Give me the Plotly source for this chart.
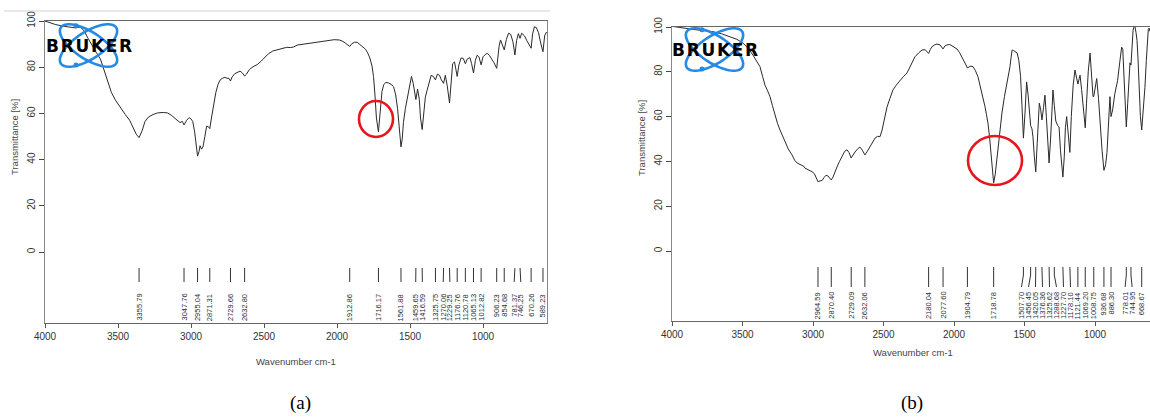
import math
import plotly.graph_objects as go

# ---------------- data: spectrum (a) ----------------
wn_a = [4000, 3970, 3930, 3880, 3830, 3790, 3760, 3735, 3705, 3680, 3650, 3620, 3595, 3570, 3545, 3515,
        3480, 3450, 3420, 3395, 3375, 3355.79, 3335, 3315, 3290, 3260, 3230, 3190, 3160, 3135, 3110, 3090,
        3075, 3060, 3047.76, 3030, 3012, 3000, 2988, 2975, 2962, 2955.04, 2945, 2938, 2928, 2918, 2905,
        2893, 2880, 2871.31, 2860, 2845, 2830, 2815, 2800, 2785, 2768, 2753, 2740, 2729.66, 2718, 2700,
        2680, 2664, 2648, 2632.80, 2620, 2600, 2575, 2545, 2520, 2495, 2470, 2440, 2410, 2380, 2345, 2320,
        2300, 2270, 2230, 2190, 2150, 2100, 2060, 2020, 1985, 1960, 1940, 1925, 1912.86, 1898, 1880, 1862,
        1845, 1825, 1805, 1790, 1775, 1760, 1750, 1740, 1730, 1716.17, 1708, 1700, 1692, 1680, 1665, 1648,
        1630, 1612, 1598, 1585, 1572, 1561.88, 1553, 1545, 1532, 1520, 1505, 1490, 1478, 1459.65, 1448,
        1436, 1428, 1416.59, 1405, 1395, 1383, 1370, 1355, 1340, 1325.75, 1312, 1298, 1285, 1270.06, 1258,
        1245, 1229.25, 1218, 1208, 1195, 1185, 1176.76, 1165, 1150, 1135, 1120.78, 1108, 1090, 1078,
        1065.13, 1052, 1040, 1028, 1012.82, 1000, 985, 970, 955, 940, 925, 906.23, 890, 880, 868, 854.68,
        840, 825, 810, 795, 781.37, 770, 758, 746.25, 735, 715, 700, 685, 670.26, 660, 648, 635, 620, 605,
        589.23, 578, 568, 562]
t_a = [100, 99.3, 98.5, 97.8, 97.2, 97.0, 97.4, 96.0, 92.5, 89.5, 86.5, 83.5, 78.5, 73, 69, 65.5,
       62, 59.5, 57, 54, 51, 49.5, 52.5, 56.5, 58.5, 59.5, 60.2, 60.4, 60.2, 59.2, 57.8, 57.0,
       56, 56.6, 55, 57, 58.2, 57.6, 56.5, 52, 44, 41.5, 43.5, 46, 44.5, 45.5, 50,
       54.5, 54.2, 53.4, 58, 64, 69, 72.5, 74.5, 75.2, 75.6, 75.2, 75.2, 74, 75.8, 77.2,
       77.8, 78.3, 77.5, 76.2, 77, 79, 80.2, 81.2, 82.6, 84.3, 85.8, 87, 87.5, 88.2, 88.6, 88.5,
       88.7, 89.6, 90.0, 90.3, 90.6, 91.2, 91.7, 91.9, 91.8, 91.2, 90.3, 89.6, 89, 90.2, 90.8, 90.8,
       90.0, 88.9, 87.8, 86.2, 84, 80.5, 76, 68, 58, 52, 57, 64, 69.5, 72.5, 73.4, 73.2,
       72.6, 71.5, 68, 62, 52, 45.5, 49, 56, 62, 65.5, 71, 76, 73, 66, 70.5,
       66, 58, 53, 60, 67, 70, 73.5, 76.5, 76, 74.5, 77, 76.5, 74.5, 73, 76.5,
       72, 64.5, 74, 81.5, 82.3, 79, 76, 81, 84, 83.8, 81.5, 83.5, 84.2, 81.5,
       77.5, 83, 85.2, 84.5, 81, 84.5, 85.5, 86, 85, 83.5, 82, 79.5, 89, 91.8, 90, 87.5,
       92, 94.7, 94.2, 91, 85.3, 91.5, 94.5, 92.5, 94.7, 93.5, 91.5, 89.5, 88.2, 94.5, 97.5, 97.2, 95, 90.5,
       86.7, 93.5, 95, 95]
peaks_a = ["3355.79", "3047.76", "2955.04", "2871.31", "2729.66", "2632.80", "1912.86", "1716.17",
           "1561.88", "1459.65", "1416.59", "1325.75", "1270.06", "1229.25", "1176.76", "1120.78",
           "1065.13", "1012.82", "906.23", "854.68", "781.37", "746.25", "670.26", "589.23"]

# ---------------- data: spectrum (b) ----------------
wn_b = [4000, 3970, 3930, 3880, 3823, 3760, 3709, 3650, 3589, 3540, 3496, 3460, 3426, 3400, 3376, 3358,
        3340, 3322, 3305, 3288, 3270, 3252, 3234, 3215, 3199, 3175, 3149, 3130, 3113, 3095, 3078, 3065,
        3057, 3040, 3020, 3007, 2990, 2975, 2964.59, 2950, 2935, 2922, 2908, 2894, 2882, 2870.40, 2858,
        2845, 2830, 2812, 2794, 2775, 2759, 2745, 2729.09, 2715, 2702, 2685, 2667, 2650, 2632.06, 2615,
        2596, 2578, 2560, 2542, 2525, 2510, 2492, 2475, 2455, 2433, 2410, 2383, 2360, 2333, 2305, 2277,
        2250, 2227, 2205, 2190, 2180.04, 2168, 2156, 2138, 2121, 2099, 2085, 2077.60, 2065, 2050, 2030,
        2014, 1995, 1979, 1960, 1943, 1922, 1904.79, 1885, 1865, 1848, 1830, 1815, 1801, 1790, 1780, 1770,
        1759, 1748, 1738, 1728, 1718.78, 1708, 1698, 1688, 1674, 1660, 1642, 1624, 1612, 1603, 1595, 1588,
        1578, 1565, 1552, 1540, 1528, 1518, 1507.70, 1496, 1485, 1475, 1465, 1456.45, 1447, 1440, 1430,
        1420.05, 1410, 1400, 1395, 1385, 1376.36, 1365, 1355, 1345, 1335, 1325.62, 1315, 1305, 1298,
        1288.68, 1278, 1265, 1255, 1245, 1235, 1227.70, 1218, 1210, 1201, 1190, 1178.10, 1168, 1155, 1142,
        1132, 1121.44, 1112, 1106, 1095, 1082, 1069.20, 1060, 1048, 1035, 1025, 1014, 1008.75, 998, 988,
        975, 962, 950, 936.68, 925, 915, 905, 894, 886.30, 875, 860, 840, 825, 811, 803, 795, 785, 778.01,
        768, 758, 752, 744.95, 738, 730, 722, 716, 709, 702, 695, 688, 678, 668.67, 658, 646, 636, 628,
        622, 616, 610]
t_b = [100.3, 100, 99.6, 99.2, 98.7, 98.3, 97.9, 97.0, 95.7, 94.5, 92.8, 90.5, 87.5, 85, 82.3, 78,
       74, 71.5, 68.9, 65, 60.7, 57, 54, 51.5, 48.8, 45.5, 42.9, 40.5, 39.3, 38.8, 38.4, 37.8,
       37, 36.5, 35.8, 35.4, 34.5, 32.5, 30.9, 31.3, 31.5, 32.8, 33.8, 33.5, 32.5, 31.7, 33,
       35.5, 37.5, 40, 42.5, 44.5, 45.2, 44, 41.5, 43, 44.2, 45.5, 46.4, 45, 42.9, 44.5,
       46.6, 48.5, 50.4, 51.2, 51, 54, 59, 64.3, 68, 71.9, 74, 76.3, 77.8, 79.5, 83.5, 86.7,
       88.5, 89.7, 89.9, 88.6, 88.2, 90, 91.2, 92, 92.4, 92, 90.8, 90.2, 91.5, 92, 92.2,
       91.5, 91, 90.2, 88.5, 86.7, 83.9, 81.7, 82.5, 82.3, 80.5, 77.8, 74, 69.6, 67, 64.4, 61,
       57, 51, 44, 37, 30.4, 34, 40, 44.5, 53, 61.6, 69, 75, 79, 82.3, 86.5, 89.7,
       89.5, 89, 88.4, 85, 78, 65, 50.4, 62, 75.5, 70, 63, 56, 54.5, 51, 42,
       35.3, 48, 63, 66, 63, 58.5, 64, 69.6, 60, 48, 39.3, 50, 66, 71.9,
       65, 58, 56, 55.4, 45, 38, 33, 42, 55, 60, 52, 44, 60, 74, 80.8,
       78, 74.5, 77, 78.5, 72, 62, 55, 66, 80, 88.4, 80, 68.9, 69, 74, 77,
       68, 55, 45, 36, 38.5, 44, 58, 68.9, 60, 63, 70, 76, 84, 91, 90, 80, 62, 55.4,
       66, 80, 84, 83, 90, 98.5, 100.5, 100, 97.5, 94, 86, 73, 60, 54, 62, 73, 85, 95,
       99, 99.5, 98]
peaks_b = ["2964.59", "2870.40", "2729.09", "2632.06", "2180.04", "2077.60", "1904.79", "1718.78",
           "1507.70", "1456.45", "1420.05", "1376.36", "1325.62", "1288.68", "1227.70", "1178.10",
           "1121.44", "1069.20", "1008.75", "936.68", "886.30", "778.01", "744.95", "668.67"]

x_ticks = [4000, 3500, 3000, 2500, 2000, 1500, 1000]
x_tick_text = ["4000", "3500", "3000", "2500", "2000", "1500", "1000"]
y_ticks = [0, 20, 40, 60, 80, 100]
y_tick_text = ["0", "20", "40", "60", "80", "100"]

# ---------------- layout geometry (pixels) ----------------
W, H = 1150, 420
PANELS = {
    "a": dict(left=45, right=547, top=21, bottom=323, y0px=252, pxpu=2.31, pxcm=0.146,
              tick_top=268, tick_mid=274, tick_bot=282, lab_top=292, gap_px=6.6,
              xtitle=(296, 361), ytitle=(15, 137), caption=(300, 403),
              logo=(88.5, 45.5), circle=(376, 119, 17, 18)),
    "b": dict(left=672, right=1150, top=27, bottom=321, y0px=251, pxpu=2.24, pxcm=0.141,
              tick_top=267, tick_mid=275, tick_bot=287, lab_top=290, gap_px=7.0,
              xtitle=(913, 352), ytitle=(642, 138), caption=(912, 403),
              logo=(714.5, 49.5), circle=(995, 160.5, 27, 24.5)),
}

def px_to_paper(x, y):
    return x / W, 1 - y / H

def spread(vals, gap):
    pos = list(vals)
    for _ in range(500):
        moved = False
        for i in range(len(pos) - 1):
            d = pos[i] - pos[i + 1]
            if d < gap - 1e-6:
                s = (gap - d) / 2
                pos[i] += s
                pos[i + 1] -= s
                moved = True
        if not moved:
            break
    return pos

fig = go.Figure()
annotations = []
shapes = []
layout_axes = {}

for idx, (key, wn, tt, peaks) in enumerate([("a", wn_a, t_a, peaks_a), ("b", wn_b, t_b, peaks_b)]):
    P = PANELS[key]
    sfx = "" if idx == 0 else "2"
    xa, ya = "x" + sfx, "y" + sfx
    to_t = lambda py, P=P: (P["y0px"] - py) / P["pxpu"]
    x_lo = 4000 - (P["right"] - P["left"]) / P["pxcm"]
    y_lo = to_t(P["bottom"])
    y_hi = to_t(P["top"])

    fig.add_trace(go.Scatter(x=wn, y=tt, mode="lines", xaxis=xa, yaxis=ya,
                             line=dict(color="#2a2a2a", width=1), hoverinfo="skip"))

    pk = [float(p) for p in peaks]
    lab = spread(pk, P["gap_px"] / P["pxcm"])
    lx, ly = [], []
    for p, l in zip(pk, lab):
        lx += [p, p, l, None]
        ly += [to_t(P["tick_top"]), to_t(P["tick_mid"]), to_t(P["tick_bot"]), None]
    fig.add_trace(go.Scatter(x=lx, y=ly, mode="lines", xaxis=xa, yaxis=ya,
                             line=dict(color="#333", width=1), hoverinfo="skip"))
    for txt, l in zip(peaks, lab):
        annotations.append(dict(x=l, y=to_t(P["lab_top"]), xref=xa, yref=ya, text=txt,
                                textangle=-90, showarrow=False, xanchor="center", yanchor="top",
                                font=dict(size=7.5, color="#2b2b3a", family="Liberation Sans")))

    xd = [P["left"] / W, min(P["right"] / W, 1.0)]
    yd = [1 - P["bottom"] / H, 1 - P["top"] / H]
    layout_axes["xaxis" + sfx] = dict(domain=xd, range=[4000, x_lo], anchor=ya, showline=True,
                                      linecolor="#666", linewidth=1, mirror=True, ticks="outside",
                                      ticklen=4, tickcolor="#555", tickvals=x_ticks, ticktext=x_tick_text,
                                      tickfont=dict(size=10, color="#333", family="Liberation Sans"),
                                      showgrid=False, zeroline=False)
    layout_axes["yaxis" + sfx] = dict(domain=yd, range=[y_lo, y_hi], anchor=xa, showline=True,
                                      linecolor="#888", linewidth=1, mirror=(key == "a"), ticks="outside",
                                      ticklen=5, tickcolor="#444", tickvals=y_ticks, ticktext=y_tick_text,
                                      tickangle=-90,
                                      tickfont=dict(size=10, color="#333", family="Liberation Sans"),
                                      showgrid=False, zeroline=False)

    # axis titles and caption
    tx, ty = px_to_paper(*P["xtitle"])
    annotations.append(dict(x=tx, y=ty, xref="paper", yref="paper", text="Wavenumber cm-1",
                            showarrow=False, xanchor="center", yanchor="middle",
                            font=dict(size=9.5, color="#444", family="Liberation Sans")))
    tx, ty = px_to_paper(*P["ytitle"])
    annotations.append(dict(x=tx, y=ty, xref="paper", yref="paper", text="Transmittance [%]",
                            textangle=-90, showarrow=False, xanchor="center", yanchor="middle",
                            font=dict(size=9.5, color="#444", family="Liberation Sans")))
    tx, ty = px_to_paper(*P["caption"])
    annotations.append(dict(x=tx, y=ty, xref="paper", yref="paper", text="(" + key + ")",
                            showarrow=False, xanchor="center", yanchor="middle",
                            font=dict(size=19, color="#000", family="Liberation Serif")))

    # red circle
    cx, cy, rx, ry = P["circle"]
    x0, y0 = px_to_paper(cx - rx, cy - ry)
    x1, y1 = px_to_paper(cx + rx, cy + ry)
    shapes.append(dict(type="circle", xref="paper", yref="paper", x0=x0, x1=x1, y0=y1, y1=y0,
                       line=dict(color="#e8151b", width=2.6), layer="above"))

    # Bruker logo
    lcx, lcy = P["logo"]
    a_, b_ = 33, 13.5
    for ang in (33, -33):
        th = math.radians(ang)
        pts = []
        for k in range(73):
            t = 2 * math.pi * k / 72
            ex = a_ * math.cos(t) * math.cos(th) - b_ * math.sin(t) * math.sin(th)
            ey = a_ * math.cos(t) * math.sin(th) + b_ * math.sin(t) * math.cos(th)
            px, py = px_to_paper(lcx + ex, lcy + ey)
            pts.append(f"{px:.5f},{py:.5f}")
        shapes.append(dict(type="path", xref="paper", yref="paper", path="M" + " L".join(pts) + " Z",
                           line=dict(color="#2589e6", width=2.6), layer="above"))
    for dx, dy in ((-12.5, -19.8), (-12.5, 19.5)):
        x0, y0 = px_to_paper(lcx + dx - 2.5, lcy + dy - 2.5)
        x1, y1 = px_to_paper(lcx + dx + 2.5, lcy + dy + 2.5)
        shapes.append(dict(type="circle", xref="paper", yref="paper", x0=x0, x1=x1, y0=y1, y1=y0,
                           fillcolor="#2589e6", line=dict(color="#2589e6", width=0), layer="above"))
    tx, ty = px_to_paper(lcx, lcy)
    annotations.append(dict(x=tx, y=ty, xref="paper", yref="paper",
                            text="<b>B\u200aR\u200aU\u200aK\u200aE\u200aR</b>", showarrow=False,
                            font=dict(size=17, color="#000", family="DejaVu Sans"),
                            xanchor="center", yanchor="middle"))

# faint frame line on top of panel (a)
x0, y0 = px_to_paper(4, 11)
x1, y1 = px_to_paper(550, 11)
shapes.append(dict(type="line", xref="paper", yref="paper", x0=x0, x1=x1, y0=y0, y1=y1,
                   line=dict(color="#d0d0d0", width=1)))

fig.update_layout(width=W, height=H, margin=dict(l=0, r=0, t=0, b=0), showlegend=False,
                  plot_bgcolor="white", paper_bgcolor="white", template="none",
                  annotations=annotations, shapes=shapes, **layout_axes)

fig.write_html("out.html")
